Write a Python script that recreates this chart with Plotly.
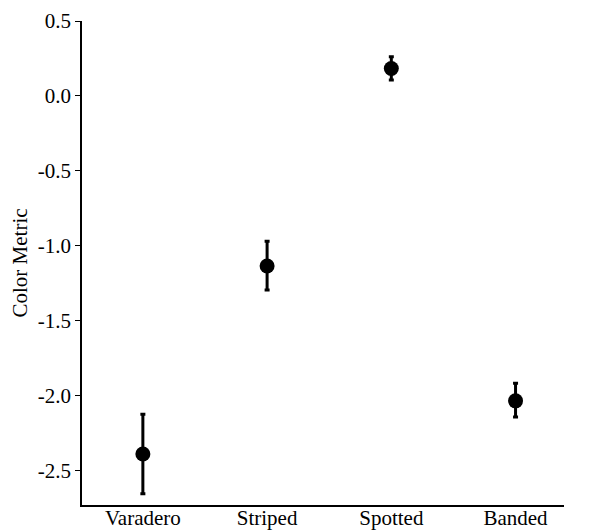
import plotly.graph_objects as go

categories = ["Varadero", "Striped", "Spotted", "Banded"]
means = [-2.39, -1.135, 0.183, -2.035]
err_upper = [0.265, 0.165, 0.078, 0.118]
err_lower = [0.265, 0.16, 0.077, 0.108]
y_ticks = [0.5, 0.0, -0.5, -1.0, -1.5, -2.0, -2.5]
y_tick_labels = ["0.5", "0.0", "-0.5", "-1.0", "-1.5", "-2.0", "-2.5"]

xpos = list(range(len(categories)))

fig = go.Figure()
fig.add_trace(go.Scatter(
    x=xpos, y=means, mode="markers",
    marker=dict(color="black", size=15),
    error_y=dict(type="data", symmetric=False, array=err_upper, arrayminus=err_lower,
                 color="black", thickness=3, width=2.5),
    showlegend=False,
))

font = "Liberation Serif"
fig.update_layout(
    width=588, height=523,
    margin=dict(l=74, r=32, t=13, b=26),
    plot_bgcolor="white", paper_bgcolor="white",
    font=dict(family=font, size=21, color="black"),
    xaxis=dict(
        range=[-0.49, 3.39], tickvals=xpos, ticktext=categories,
        showline=True, linecolor="black", linewidth=1.5, ticks="",
        showgrid=False, zeroline=False, tickfont=dict(size=21),
        ticklabelstandoff=-7,
        automargin=False,
    ),
    yaxis=dict(
        range=[-2.73, 0.5], tickvals=y_ticks, ticktext=y_tick_labels,
        showline=True, linecolor="black", linewidth=1.5, ticks="outside",
        ticklen=5, tickwidth=1, tickcolor="black",
        showgrid=False, zeroline=False, tickfont=dict(size=21),
        title=dict(text="Color Metric", font=dict(size=21), standoff=14),
        automargin=False,
    ),
)

fig.write_html("out.html")
